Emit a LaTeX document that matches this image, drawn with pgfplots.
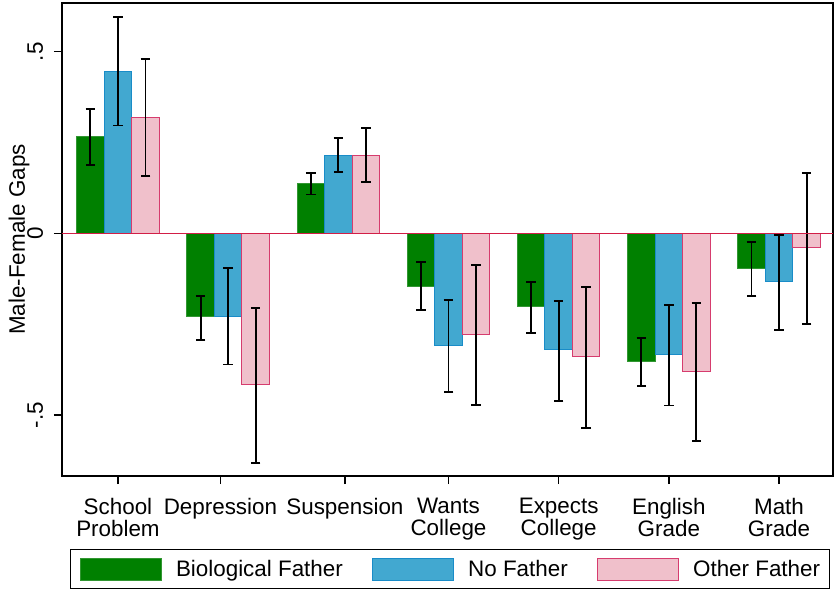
\documentclass[border=0pt]{standalone}
\usepackage{fontspec}
\setmainfont{Liberation Sans}
\usepackage{pgfplots}
\pgfplotsset{compat=1.18}
\usepackage{pgfplotstable}
\definecolor{bgreen}{RGB}{0,128,0}
\definecolor{bgreenE}{RGB}{50,150,50}
\definecolor{nblue}{RGB}{66,168,208}
\definecolor{nblueE}{RGB}{25,140,200}
\definecolor{opink}{RGB}{240,192,203}
\definecolor{opinkE}{RGB}{214,60,110}
\definecolor{zline}{RGB}{210,30,70}

\pgfplotstableread{
x y ep em
-0.25 0.266 0.077 0.077
0.75 -0.229 0.057 0.064
1.75 0.138 0.029 0.031
2.75 -0.145 0.066 0.066
3.75 -0.202 0.069 0.072
4.75 -0.354 0.065 0.066
5.75 -0.098 0.074 0.074
}\bio
\pgfplotstableread{
x y ep em
0 0.446 0.149 0.149
1 -0.228 0.132 0.133
2 0.214 0.049 0.046
3 -0.308 0.124 0.128
4 -0.321 0.135 0.140
5 -0.333 0.136 0.141
6 -0.133 0.128 0.134
}\nof
\pgfplotstableread{
x y ep em
0.25 0.318 0.161 0.161
1.25 -0.417 0.212 0.215
2.25 0.214 0.075 0.072
3.25 -0.279 0.191 0.194
4.25 -0.338 0.191 0.198
5.25 -0.379 0.188 0.193
6.25 -0.040 0.205 0.209
}\oth

\newcommand{\fs}{\fontsize{16.8}{16.2}\selectfont}

\begin{document}
\begin{tikzpicture}
\begin{axis}[name=ax,
  scale only axis, width=578.25pt, height=354.75pt,
  xmin=-0.508, xmax=6.490, ymin=-0.668, ymax=0.634,
  ybar, bar width=0.25, bar shift=0pt,
  legend image code/.code={\draw[#1, line width=0.75pt] (0pt,-8.25pt) rectangle (60.75pt,8.25pt);},
  axis line style={line width=1pt, black},
  tick style={black, line width=1pt},
  major tick length=6pt,
  tick align=outside, tick pos=left,
  xtick={0,0.93,2.06,3,4,5,6},
  xticklabels={{School\\Problem},{Depression},{Suspension},{Wants\\College},{Expects\\College},{English\\Grade},{Math\\Grade}},
  xticklabel style={font=\fs, align=center, anchor=north, inner sep=0pt},
  xticklabel shift=10.5pt,
  ytick={-0.5,0,0.5}, yticklabels={-.5,0,.5},
  yticklabel style={font=\fs, rotate=90, anchor=base, inner sep=0pt},
  yticklabel shift=8.25pt,
  ylabel={Male-Female Gaps},
  ylabel style={font=\fs, at={(axis description cs:-0.048,0.5)}, anchor=base, inner sep=0pt},
  legend columns=3,
  legend style={at={(axis description cs:0.0104,-0.1543)}, anchor=north west,
    draw=black, line width=1pt, inner xsep=7pt, inner ysep=6pt, font=\fs,
    nodes={inner sep=0pt},
    /tikz/every odd column/.append style={column sep=10.5pt},
    /tikz/every even column/.append style={column sep=22pt}},
  error bars/y dir=both, error bars/y explicit,
  error bars/error bar style={line width=1.4pt, black},
  error bars/error mark options={rotate=90, line width=1.4pt, black, mark size=3.6pt},
]
\addplot[fill=bgreen, draw=bgreenE, line width=0.75pt] table[x=x, y=y, y error plus=ep, y error minus=em] {\bio};
\addplot[fill=nblue, draw=nblueE, line width=0.75pt] table[x=x, y=y, y error plus=ep, y error minus=em] {\nof};
\addplot[fill=opink, draw=opinkE, line width=0.75pt] table[x=x, y=y, y error plus=ep, y error minus=em] {\oth};
\addplot[zline, line width=0.9pt, sharp plot, forget plot, mark=none] coordinates {(-0.508,0) (6.49,0)};
\legend{Biological Father, No Father, Other Father}
\end{axis}
\pgfresetboundingbox
\path (ax.south west) ++(-46.5pt,-88.5pt) rectangle ++(629.25pt,445.5pt);
\end{tikzpicture}
\end{document}
